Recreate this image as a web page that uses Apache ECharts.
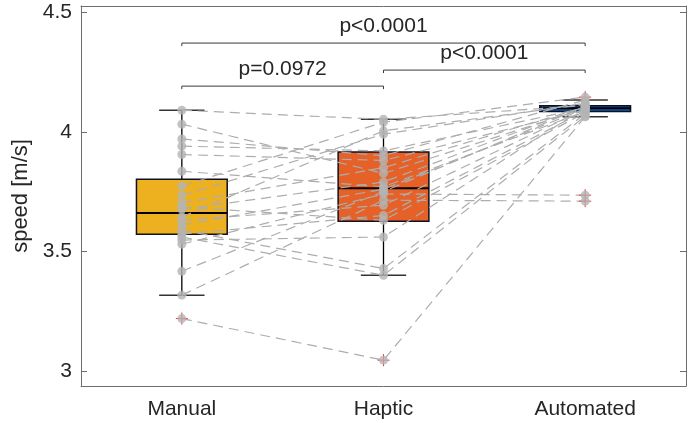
<!DOCTYPE html>
<html>
<head>
<meta charset="utf-8">
<script src="https://cdn.jsdelivr.net/npm/echarts@6/dist/echarts.min.js"></script>
<style>
  html, body { margin: 0; padding: 0; background: #fff; }
  #chart { width: 689px; height: 423px; }
</style>
</head>
<body>
<div id="chart"></div>
<script>
// Conditions and per-subject walking speed [m/s]; index i is the same subject in each list
const categories = ['Manual', 'Haptic', 'Automated'];
const manualSpeed = [4.090, 4.032, 3.970, 3.940, 3.905, 3.835, 3.773, 3.734, 3.703, 3.686, 3.676,
                     3.644, 3.630, 3.610, 3.589, 3.572, 3.560, 3.547, 3.530, 3.417, 3.317, 3.219];
const hapticSpeed = [4.052, 3.826, 3.900, 3.920, 3.880, 3.770, 4.040, 3.990, 3.850, 3.630, 3.790,
                     4.004, 3.693, 3.760, 3.428, 3.650, 3.400, 3.560, 3.740, 3.750, 3.714, 3.045];
const automatedSpeed = [4.110, 4.098, 4.133, 4.100, 4.092, 4.085, 4.145, 4.120, 4.104, 4.080, 4.106,
                        4.115, 4.095, 4.097, 4.075, 4.088, 4.065, 4.102, 3.735, 4.108, 3.710, 4.063];

// Box statistics per condition
const whiskerLow = [3.317, 3.400, 4.063];
const quartile1 = [3.572, 3.626, 4.085];
const medians = [3.660, 3.764, 4.098];
const quartile3 = [3.802, 3.915, 4.109];
const whiskerHigh = [4.090, 4.052, 4.133];
const boxColors = ['#EDB120', '#E66127', '#0F5AA8'];

// Pairwise comparisons
const sigFrom = [0, 0, 1];
const sigTo = [1, 2, 2];
const sigLevel = [4.191, 4.371, 4.258];
const sigText = ['p=0.0972', 'p<0.0001', 'p<0.0001'];

const yTicks = [3, 3.5, 4, 4.5];

const FONT = 'Liberation Sans, Arial, Helvetica, sans-serif';
const TEXT = '#262626';
const AXIS = '#6e6e6e';

const conditions = [manualSpeed, hapticSpeed, automatedSpeed];

const boxData = categories.map((c, i) =>
  [i, whiskerLow[i], quartile1[i], medians[i], quartile3[i], whiskerHigh[i]]);

const dotData = [];
const outlierData = [];
conditions.forEach((vals, i) => {
  vals.forEach(v => {
    dotData.push([i, v]);
    if (v < whiskerLow[i] || v > whiskerHigh[i]) outlierData.push([i, v]);
  });
});

const subjectSeries = manualSpeed.map((m, s) => ({
  type: 'line',
  data: [manualSpeed[s], hapticSpeed[s], automatedSpeed[s]],
  symbol: 'none',
  silent: true,
  z: 3,
  lineStyle: { color: '#adadad', width: 1.2, type: [10, 6] }
}));

const sigData = sigFrom.map((f, k) => [f, sigTo[k], sigLevel[k], k]);

const chart = echarts.init(document.getElementById('chart'));
chart.setOption({
  animation: false,
  backgroundColor: '#ffffff',
  grid: { left: 81, right: 3, top: 6, bottom: 37, containLabel: false },
  xAxis: [{
    type: 'category',
    data: categories,
    boundaryGap: true,
    axisLine: { lineStyle: { color: AXIS, width: 1 } },
    axisTick: { inside: true, alignWithLabel: true, length: 6, lineStyle: { color: AXIS } },
    axisLabel: { color: TEXT, fontFamily: FONT, fontSize: 21, margin: 13 },
    splitLine: { show: false }
  }, {
    type: 'category',
    data: categories,
    position: 'top',
    boundaryGap: true,
    axisLine: { lineStyle: { color: AXIS, width: 1 } },
    axisTick: { inside: true, alignWithLabel: true, length: 6, lineStyle: { color: AXIS } },
    axisLabel: { show: false },
    splitLine: { show: false }
  }],
  yAxis: [{
    type: 'value',
    min: 2.937,
    max: 4.526,
    name: 'speed [m/s]',
    nameLocation: 'middle',
    nameGap: 42,
    nameTextStyle: { color: TEXT, fontFamily: FONT, fontSize: 22 },
    axisLine: { show: true, lineStyle: { color: AXIS, width: 1 } },
    axisTick: { show: true, inside: true, length: 6, customValues: yTicks, lineStyle: { color: AXIS } },
    axisLabel: { color: TEXT, fontFamily: FONT, fontSize: 21, margin: 9, customValues: yTicks,
                 formatter: v => String(v) },
    splitLine: { show: false }
  }, {
    type: 'value',
    min: 2.937,
    max: 4.526,
    position: 'right',
    axisLine: { show: true, lineStyle: { color: AXIS, width: 1 } },
    axisTick: { show: true, inside: true, length: 6, customValues: yTicks, lineStyle: { color: AXIS } },
    axisLabel: { show: false },
    splitLine: { show: false }
  }],
  series: [
    {
      // box plots: whiskers, caps, box and median
      type: 'custom',
      z: 2,
      silent: true,
      data: boxData,
      encode: { x: 0, y: [1, 2, 3, 4, 5] },
      renderItem: function (params, api) {
        const i = api.value(0);
        const band = api.size([1, 0])[0];
        const half = band * 0.225;
        const capHalf = band * 0.1125;
        const pLow = api.coord([i, api.value(1)]);
        const pQ1 = api.coord([i, api.value(2)]);
        const pMed = api.coord([i, api.value(3)]);
        const pQ3 = api.coord([i, api.value(4)]);
        const pHigh = api.coord([i, api.value(5)]);
        const x = pMed[0];
        const lineStyle = { stroke: '#000', lineWidth: 1.3 };
        return {
          type: 'group',
          children: [
            { type: 'line', shape: { x1: x, y1: pQ1[1], x2: x, y2: pLow[1] }, style: lineStyle },
            { type: 'line', shape: { x1: x, y1: pQ3[1], x2: x, y2: pHigh[1] }, style: lineStyle },
            { type: 'line', shape: { x1: x - capHalf, y1: pLow[1], x2: x + capHalf, y2: pLow[1] }, style: { stroke: '#333', lineWidth: 1.5 } },
            { type: 'line', shape: { x1: x - capHalf, y1: pHigh[1], x2: x + capHalf, y2: pHigh[1] }, style: { stroke: '#333', lineWidth: 1.5 } },
            { type: 'rect', shape: { x: x - half, y: pQ3[1], width: half * 2, height: pQ1[1] - pQ3[1] },
              style: { fill: boxColors[i], stroke: '#101020', lineWidth: 1.5 } },
            { type: 'line', shape: { x1: x - half, y1: pMed[1], x2: x + half, y2: pMed[1] }, style: { stroke: '#000', lineWidth: 2 } }
          ]
        };
      }
    },
    ...subjectSeries,
    {
      // outlier crosses
      type: 'custom',
      z: 4,
      silent: true,
      data: outlierData,
      encode: { x: 0, y: 1 },
      renderItem: function (params, api) {
        const p = api.coord([api.value(0), api.value(1)]);
        const r = 6;
        const st = { stroke: '#ff2a2a', lineWidth: 1 };
        return {
          type: 'group',
          children: [
            { type: 'line', shape: { x1: p[0] - r, y1: p[1], x2: p[0] + r, y2: p[1] }, style: st },
            { type: 'line', shape: { x1: p[0], y1: p[1] - r, x2: p[0], y2: p[1] + r }, style: st }
          ]
        };
      }
    },
    {
      // individual subject measurements
      type: 'scatter',
      z: 5,
      silent: true,
      data: dotData,
      symbol: 'circle',
      symbolSize: 9,
      itemStyle: { color: '#b4b4b4' }
    },
    {
      // significance brackets
      type: 'custom',
      z: 6,
      silent: true,
      data: sigData,
      encode: { x: [0, 1], y: 2 },
      renderItem: function (params, api) {
        const a = api.coord([api.value(0), api.value(2)]);
        const b = api.coord([api.value(1), api.value(2)]);
        const k = api.value(3);
        const st = { stroke: '#3a3a3a', lineWidth: 1 };
        return {
          type: 'group',
          children: [
            { type: 'polyline', shape: { points: [[a[0], a[1] + 3], [a[0], a[1]], [b[0], b[1]], [b[0], b[1] + 3]] }, style: Object.assign({ fill: null }, st) },
            { type: 'text', x: (a[0] + b[0]) / 2, y: a[1] - 17,
              style: { text: sigText[k], fill: TEXT, font: '21px ' + FONT, align: 'center', verticalAlign: 'middle' } }
          ]
        };
      }
    }
  ]
});
</script>
</body>
</html>
